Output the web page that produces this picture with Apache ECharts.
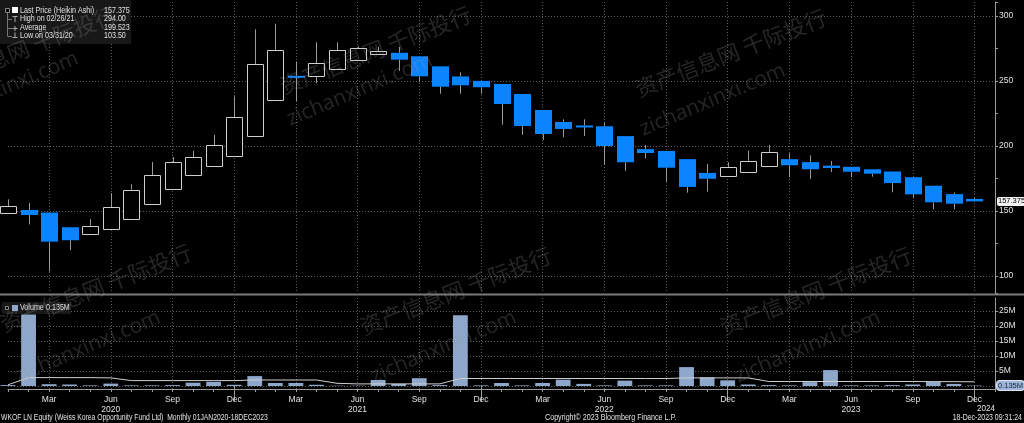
<!DOCTYPE html>
<html><head><meta charset="utf-8">
<script src="https://cdn.jsdelivr.net/npm/echarts@6/dist/echarts.min.js"></script>
<style>html,body{margin:0;padding:0;background:#000;}#c{width:1024px;height:423px;}</style>
</head><body><div id="c"></div>
<script>
// ---------- data ----------
const years = [2020, 2021, 2022, 2023];
const monthNames = ['Jan','Feb','Mar','Apr','May','Jun','Jul','Aug','Sep','Oct','Nov','Dec'];
const labelMonths = ['Mar','Jun','Sep','Dec'];
const extraCategory = 'Jan 2024';
const priceTicks = [100, 150, 200, 250, 300];
const volumeTicks = [5, 10, 15, 20, 25];

// Heikin Ashi monthly candles, Jan 2020 .. Dec 2023
const openPrices  = [147.9,150.8,148.8,137.5,132.5,135.6,144.2,155.3,166.5,177.1,184.3,192.3,
                     207.3,235.0,254.0,253.6,258.6,266.1,270.6,271.7,269.0,261.3,253.5,250.1,
                     247.7,240.0,227.7,218.5,215.8,215.2,207.6,197.6,196.2,189.9,179.3,177.1,
                     180.5,184.6,189.9,187.6,184.9,184.0,182.1,180.4,176.0,169.4,163.0,159.3];
const closePrices = [153.6,146.9,126.4,127.5,138.7,152.8,166.4,177.7,187.5,191.3,200.5,222.3,
                     262.8,273.6,253.4,263.6,273.6,275.2,272.8,266.4,253.6,245.6,246.7,245.2,
                     232.3,215.4,209.2,213.1,214.6,200.0,187.5,194.6,183.3,168.5,174.8,183.8,
                     188.7,195.1,185.2,182.1,183.1,180.2,178.7,171.5,162.8,156.7,155.6,157.375];
const lowPrices   = [147.9,139.7,103.5,120.0,132.5,135.6,144.2,155.3,166.5,177.1,184.3,192.3,
                     207.3,235.0,234.6,248.2,258.6,266.1,270.6,257.7,249.5,240.2,240.2,240.2,
                     216.4,208.5,204.6,206.7,207.7,185.4,180.8,190.5,172.5,164.1,164.9,177.1,
                     180.5,184.6,175.9,174.6,180.0,175.9,176.4,164.4,159.8,151.3,151.3,157.0];
const highPrices  = [159.0,156.2,148.8,137.5,143.8,163.8,170.5,187.7,191.5,196.4,208.5,238.2,
                     289.8,294.0,265.0,279.8,279.8,276.5,276.2,276.2,269.0,261.3,256.7,250.1,
                     247.7,240.0,227.7,220.5,220.5,217.9,207.6,200.8,196.2,189.9,186.2,187.5,
                     196.4,200.8,194.4,192.8,188.5,184.0,182.3,180.4,176.0,169.4,164.1,160.3];
// monthly volume, millions
const volumes     = [0.3,23.8,0.6,0.5,0.2,0.8,0.2,0.2,0.3,1.1,1.4,0.4,
                     3.3,1.0,1.0,0.4,0.1,0.1,2.0,0.7,2.6,0.3,23.6,0.2,
                     1.0,0.2,1.0,2.1,0.7,0.2,1.8,0.2,0.2,6.3,2.9,1.9,
                     0.5,0.3,0.2,1.3,5.3,0.2,0.2,0.3,0.5,1.4,0.7,0.135];
const volumeAvg   = [0.4,2.8,2.8,2.8,2.8,2.7,1.8,1.8,1.8,1.8,1.8,1.8,
                     2.0,2.0,2.0,2.0,0.9,0.7,0.7,0.7,0.7,0.7,2.5,2.5,
                     2.5,2.5,2.5,2.5,2.5,2.5,2.5,2.5,2.5,2.7,2.7,2.7,
                     2.7,1.5,1.5,1.5,1.5,1.5,1.5,1.5,1.5,1.45,1.45,1.4];
const lastPrice = 157.375, highValue = '294.00', highDate = '02/26/21';
const averageValue = '199.523', lowValue = '103.50', lowDate = '03/31/20';
const lastVolume = 0.135;

// ---------- build ----------
const categories = [];
years.forEach(y => monthNames.forEach(m => categories.push(m + ' ' + y)));
categories.push(extraCategory);
const monthOf = i => categories[i].split(' ')[0];
const isQuarter = (i) => labelMonths.indexOf(monthOf(i)) >= 0 && i < 48;
const isDec = (i) => monthOf(i) === 'Dec';

const FONT = '"Liberation Sans",Arial,sans-serif';
const TXT = '#e2e2e2';
const GRID_LINE = {color: '#5e5e5e', type: [1, 2], width: 1};
const AX = '#9c9c9c';
const UP_BORDER = '#cfcfcf', DOWN_FILL = '#0a84ff', WICK = '#9a9a9a', VOL = '#8ea8cb';

const candleData = openPrices.map((o, i) => [i, o, closePrices[i], lowPrices[i], highPrices[i]]);

function renderCandle(params, api) {
  const i = api.value(0), o = api.value(1), c = api.value(2), l = api.value(3), h = api.value(4);
  const w = Math.round(api.size([1, 0])[0] * 0.78);
  const pO = api.coord([i, o]), pC = api.coord([i, c]), pL = api.coord([i, l]), pH = api.coord([i, h]);
  const up = c >= o;
  const top = Math.min(pO[1], pC[1]), bot = Math.max(pO[1], pC[1]);
  const x = Math.round(pO[0]);
  const ch = [];
  ch.push({type: 'line', shape: {x1: x + 0.5, y1: pH[1], x2: x + 0.5, y2: top}, style: {stroke: WICK, lineWidth: 1}});
  ch.push({type: 'line', shape: {x1: x + 0.5, y1: bot, x2: x + 0.5, y2: pL[1]}, style: {stroke: WICK, lineWidth: 1}});
  if (up) {
    ch.push({type: 'rect', shape: {x: x - Math.round(w / 2) + 0.5, y: Math.round(top) + 0.5, width: w, height: Math.max(1, Math.round(bot - top))},
      style: {fill: '#000', stroke: UP_BORDER, lineWidth: 1}});
  } else {
    ch.push({type: 'rect', shape: {x: x - Math.round(w / 2), y: top, width: w + 1, height: Math.max(2, bot - top)},
      style: {fill: DOWN_FILL}});
  }
  return {type: 'group', children: ch};
}

// ---------- graphics (legend, footer, watermarks) ----------
const g = [];
function txt(x, y, s, opt, sx) {
  g.push({type: 'text', x: x, y: y, z: 60, silent: true, scaleX: sx || 0.84,
    style: Object.assign({text: s, fill: TXT, font: '8.5px ' + FONT, textAlign: 'left', textVerticalAlign: 'middle'}, opt || {})});
}
function ln(x1, y1, x2, y2, c, wdt) {
  g.push({type: 'line', z: 60, silent: true, shape: {x1, y1, x2, y2}, style: {stroke: c || '#888', lineWidth: wdt || 1}});
}
// legend box
g.push({type: 'rect', z: 55, silent: true, shape: {x: 0, y: 0, width: 131, height: 44}, style: {fill: 'rgba(28,28,28,0.85)'}});
ln(7.5, 12, 7.5, 36, '#777');
g.push({type: 'rect', z: 61, silent: true, shape: {x: 5.5, y: 8.5, width: 4, height: 4}, style: {fill: '#000', stroke: '#888'}});
g.push({type: 'rect', z: 61, silent: true, shape: {x: 12, y: 7, width: 6, height: 6}, style: {fill: '#fff'}});
ln(7.5, 19.5, 12, 19.5, '#777'); ln(12.5, 16.5, 17.5, 16.5, '#aaa'); ln(15, 16.5, 15, 22, '#aaa');
ln(7.5, 28.5, 12, 28.5, '#777'); ln(12.5, 28.5, 17.5, 28.5, '#aaa'); ln(15, 26, 15, 31, '#aaa');
ln(7.5, 36.5, 12, 36.5, '#777'); ln(12.5, 37.5, 17.5, 37.5, '#aaa'); ln(15, 32.5, 15, 37.5, '#aaa');
txt(20, 10.5, 'Last Price (Heikin Ashi)'); txt(104, 10.5, String(lastPrice));
txt(20, 19, 'High on ' + highDate); txt(104, 19, highValue);
txt(20, 28, 'Average'); txt(104, 28, averageValue);
txt(20, 36, 'Low on ' + lowDate); txt(104, 36, lowValue);
// volume legend
g.push({type: 'rect', z: 55, silent: true, shape: {x: 2, y: 302, width: 69, height: 12}, style: {fill: 'rgba(28,28,28,0.85)'}});
g.push({type: 'rect', z: 61, silent: true, shape: {x: 5.5, y: 306.5, width: 3, height: 3}, style: {fill: '#000', stroke: '#888'}});
g.push({type: 'rect', z: 61, silent: true, shape: {x: 12, y: 305, width: 6, height: 6}, style: {fill: VOL}});
txt(20, 308, 'Volume'); txt(46, 308, lastVolume + 'M');
// separator between panels
ln(0, 294.5, 1024, 294.5, '#7a7a7a', 2);
// year label for 2024
txt(977, 409, '2024', {font: '9px ' + FONT}, 0.9);
// footer
txt(1, 418, 'WKOF LN Equity (Weiss Korea Opportunity Fund Ltd)  Monthly 01JAN2020-18DEC2023', null, 0.8);
txt(545, 418, 'Copyright\u00a9 2023 Bloomberg Finance L.P.', null, 0.84);
txt(1022, 418, '18-Dec-2023 09:31:24', {textAlign: 'right'}, 0.82);
// watermarks
const wmCN = '资产信息网 千际投行', wmEN = 'zichanxinxi.com';
const wmRot = 0.37;
[[-70, 97], [285, 97], [640, 100], [5, 335], [365, 338], [725, 338]].forEach(p => {
  g.push({type: 'text', x: p[0], y: p[1], rotation: wmRot, z: 100, silent: true,
    style: {text: wmCN, fill: 'rgba(150,150,150,0.25)', font: '22px "Noto Sans CJK SC"', textAlign: 'left', textVerticalAlign: 'bottom'}});
});
[[-62, 128], [292, 130], [645, 140], [20, 387], [376, 387], [740, 387]].forEach(p => {
  g.push({type: 'text', x: p[0], y: p[1], rotation: wmRot + 0.03, z: 100, silent: true,
    style: {text: wmEN, fill: 'rgba(150,150,150,0.25)', font: '21px "Open Sans"', textAlign: 'left', textVerticalAlign: 'bottom'}});
});

// ---------- chart ----------
const chart = echarts.init(document.getElementById('c'), null, {renderer: 'canvas'});
const gridL = 8, gridR = 29;
chart.setOption({
  backgroundColor: '#000',
  animation: false,
  textStyle: {fontFamily: FONT},
  grid: [
    {left: gridL, right: gridR, top: 2, height: 291, outerBoundsMode: 'none', containLabel: false},
    {left: gridL, right: gridR, top: 298, height: 91, outerBoundsMode: 'none', containLabel: false}
  ],
  xAxis: [
    {gridIndex: 0, type: 'category', data: categories, boundaryGap: false,
     axisLine: {show: false}, axisTick: {show: false}, axisLabel: {show: false},
     splitLine: {show: true, interval: (i) => isQuarter(i), lineStyle: GRID_LINE}},
    {gridIndex: 1, type: 'category', data: categories, boundaryGap: false, position: 'bottom',
     axisLine: {show: true, onZero: false, lineStyle: {color: AX}},
     axisTick: {show: true, interval: 0, length: 3, lineStyle: {color: AX}},
     axisLabel: {interval: (i) => isQuarter(i), color: TXT, fontSize: 8.5, fontFamily: FONT, margin: 6, lineHeight: 10,
       formatter: (v) => { const p = v.split(' '); return p[0] === 'Jun' ? p[0] + '\n' + p[1] : p[0]; }},
     splitLine: {show: true, interval: (i) => isQuarter(i), lineStyle: GRID_LINE}},
    {gridIndex: 1, type: 'category', data: categories, boundaryGap: false, position: 'bottom',
     axisLine: {show: false}, axisLabel: {show: false}, splitLine: {show: false},
     axisTick: {show: true, interval: (i) => isDec(i), length: 15, lineStyle: {color: AX}}}
  ],
  yAxis: [
    {gridIndex: 0, type: 'value', position: 'right', min: 86.92, max: 310.77,
     axisLine: {show: true, lineStyle: {color: AX}},
     axisTick: {show: true, length: 3, lineStyle: {color: AX}},
     minorTick: {show: true, splitNumber: 2, length: 3, lineStyle: {color: AX}},
     axisLabel: {color: TXT, fontSize: 8.5, fontFamily: FONT, margin: 4, showMinLabel: false, showMaxLabel: false,
       formatter: (v) => priceTicks.indexOf(v) >= 0 ? String(v) : ''},
     splitLine: {show: true, showMinLine: false, showMaxLine: false, lineStyle: GRID_LINE}},
    {gridIndex: 1, type: 'value', position: 'right', min: -1, max: 29.33,
     axisLine: {show: true, lineStyle: {color: AX}},
     axisTick: {show: true, length: 3, lineStyle: {color: AX}},
     axisLabel: {color: TXT, fontSize: 8.5, fontFamily: FONT, margin: 4, showMinLabel: false, showMaxLabel: false,
       formatter: (v) => volumeTicks.indexOf(v) >= 0 ? v + 'M' : ''},
     splitLine: {show: true, showMinLine: false, showMaxLine: false, lineStyle: GRID_LINE}}
  ],
  series: [
    {type: 'custom', name: 'Last Price', xAxisIndex: 0, yAxisIndex: 0, data: candleData,
     encode: {x: 0, y: [1, 2, 3, 4]}, renderItem: renderCandle, z: 3, clip: false,
     markLine: {silent: true, symbol: 'none', animation: false,
       lineStyle: {color: 'rgba(0,0,0,0)', width: 0},
       label: {position: 'end', distance: 2, formatter: String(lastPrice), color: '#000', backgroundColor: '#f2f2f2',
         borderRadius: 2, padding: [1, 1, 0, 1], fontSize: 7.5, fontFamily: FONT},
       data: [{yAxis: lastPrice}]}},
    {type: 'bar', name: 'Volume', xAxisIndex: 1, yAxisIndex: 1, data: volumes, barWidth: '72%', clip: false,
     itemStyle: {color: VOL}, z: 2,
     markLine: {silent: true, symbol: 'none', animation: false,
       lineStyle: {color: 'rgba(0,0,0,0)', width: 0},
       label: {position: 'end', distance: 2, formatter: lastVolume + 'M', color: '#13233d', backgroundColor: '#9fb6d8',
         borderColor: '#dde6f2', borderWidth: 1, borderRadius: 3, padding: [1, 1, 0, 1], fontSize: 7.5, fontFamily: FONT},
       data: [{yAxis: lastVolume}]}},
    {type: 'line', name: 'Volume Avg', xAxisIndex: 1, yAxisIndex: 1, data: volumeAvg, symbol: 'none',
     lineStyle: {color: '#cfcfcf', width: 1}, z: 4}
  ],
  graphic: g
});
</script></body></html>
